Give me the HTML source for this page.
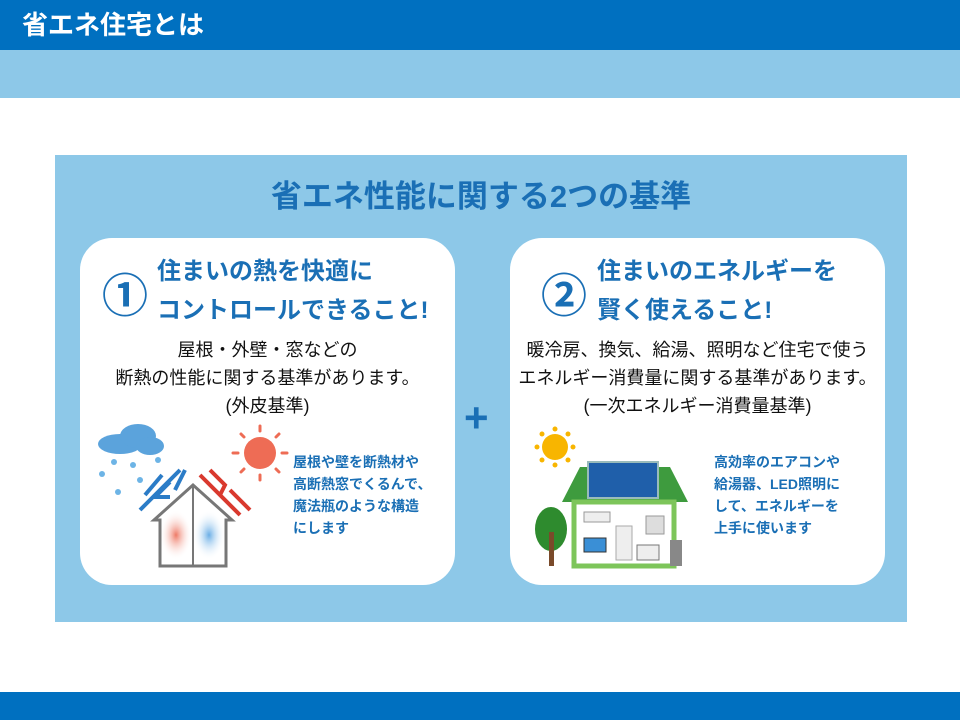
<!DOCTYPE html>
<html><head><meta charset="utf-8"><style>
*{margin:0;padding:0;box-sizing:border-box}
body{width:960px;height:720px;position:relative;background:#fff;font-family:"Liberation Sans","Noto Sans CJK JP",sans-serif;overflow:hidden}
.abs{position:absolute}
.card{position:absolute;top:238px;width:375px;height:347px;background:#fff;border-radius:32px}
.num{position:absolute;font-size:46px;color:#1A6FB5;font-weight:bold;line-height:1}
.tt{position:absolute;font-size:24px;font-weight:bold;color:#1A6FB5;line-height:39px;white-space:nowrap}
.body{position:absolute;left:0;width:375px;top:98px;text-align:center;font-size:18px;line-height:28px;color:#111;white-space:nowrap}
.sm{position:absolute;font-size:14px;font-weight:bold;color:#1A6FB5;line-height:22px;white-space:nowrap}
</style></head><body>
<div class="abs" style="left:0;top:0;width:960px;height:50px;background:#0070C0"></div>
<div class="abs" style="left:22px;top:8px;font-size:26px;font-weight:bold;color:#fff;line-height:34px">省エネ住宅とは</div>
<div class="abs" style="left:0;top:50px;width:960px;height:48px;background:#8DC8E8"></div>
<div class="abs" style="left:0;top:692px;width:960px;height:28px;background:#0070C0"></div>
<div class="abs" style="left:55px;top:155px;width:852px;height:467px;background:#8DC8E8"></div>
<div class="abs" style="left:55px;top:177px;width:852px;text-align:center;font-size:31px;font-weight:bold;color:#1A6FB5;line-height:40px">省エネ性能に関する2つの基準</div>
<div class="abs" style="left:464px;top:396px;font-size:42px;font-weight:bold;color:#1A6FB5;line-height:44px">+</div>

<div class="card" style="left:80px">
 <div class="num" style="left:22px;top:35px">①</div>
 <div class="tt" style="left:77px;top:14px">住まいの熱を快適に<br>コントロールできること!</div>
 <div class="body">屋根・外壁・窓などの<br>断熱の性能に関する基準があります。<br>(外皮基準)</div>
 <div class="sm" style="left:213px;top:213px">屋根や壁を断熱材や<br>高断熱窓でくるんで、<br>魔法瓶のような構造<br>にします</div>
 <svg class="abs" style="left:10px;top:182px" width="200" height="160" viewBox="0 0 200 160">
  <ellipse cx="30" cy="24" rx="22" ry="10" fill="#5BA3DC"/><ellipse cx="48" cy="16" rx="18" ry="12" fill="#5BA3DC"/><ellipse cx="60" cy="26" rx="14" ry="9" fill="#5BA3DC"/>
  <g fill="#6DB4E6"><circle cx="24" cy="42" r="3"/><circle cx="43" cy="45" r="3"/><circle cx="68" cy="40" r="3"/><circle cx="12" cy="54" r="3"/><circle cx="50" cy="60" r="3"/><circle cx="28" cy="72" r="3"/></g>
  <circle cx="170" cy="33" r="16" fill="#EE6C55"/>
  <g stroke="#EE6C55" stroke-width="3" stroke-linecap="round"><line x1="170" y1="6" x2="170" y2="11"/><line x1="170" y1="55" x2="170" y2="60"/><line x1="143" y1="33" x2="148" y2="33"/><line x1="192" y1="33" x2="197" y2="33"/><line x1="151" y1="14" x2="154" y2="17"/><line x1="186" y1="49" x2="189" y2="52"/><line x1="151" y1="52" x2="154" y2="49"/><line x1="186" y1="17" x2="189" y2="14"/></g>
  <g stroke="#2B7CC7" stroke-width="4" fill="none"><path d="M90 50 L50 90"/><path d="M80 62 L65 77 L80 77"/><path d="M72 55 L55 75"/><path d="M85 70 L95 50"/></g>
  <g stroke="#D9392E" stroke-width="4" fill="none"><path d="M110 55 L150 95"/><path d="M120 50 L135 65 L130 75"/><path d="M140 70 L160 90"/></g>
  <defs><radialGradient id="r" cx="0.5" cy="0.5" r="0.5"><stop offset="0" stop-color="#EE7A66"/><stop offset="1" stop-color="#fff" stop-opacity="0"/></radialGradient><radialGradient id="b" cx="0.5" cy="0.5" r="0.5"><stop offset="0" stop-color="#6AAEE6"/><stop offset="1" stop-color="#fff" stop-opacity="0"/></radialGradient></defs>
  <rect x="70" y="90" width="32" height="50" fill="url(#r)"/><rect x="103" y="90" width="32" height="50" fill="url(#b)"/>
  <path d="M64 100 L103 65 L142 100 L136 100 L136 146 L70 146 L70 100 Z" fill="none" stroke="#777" stroke-width="3"/>
  <line x1="103" y1="65" x2="103" y2="146" stroke="#777" stroke-width="2"/>
 </svg>
</div>

<div class="card" style="left:510px">
 <div class="num" style="left:31px;top:35px">②</div>
 <div class="tt" style="left:87px;top:14px">住まいのエネルギーを<br>賢く使えること!</div>
 <div class="body">暖冷房、換気、給湯、照明など住宅で使う<br>エネルギー消費量に関する基準があります。<br>(一次エネルギー消費量基準)</div>
 <div class="sm" style="left:204px;top:213px">高効率のエアコンや<br>給湯器、LED照明に<br>して、エネルギーを<br>上手に使います</div>
 <svg class="abs" style="left:10px;top:182px" width="200" height="160" viewBox="0 0 200 160">
  <circle cx="35" cy="27" r="13" fill="#F8B500"/>
  <g fill="#F8B500"><circle cx="35" cy="9" r="2.5"/><circle cx="35" cy="45" r="2.5"/><circle cx="17" cy="27" r="2.5"/><circle cx="53" cy="27" r="2.5"/><circle cx="22" cy="14" r="2.5"/><circle cx="48" cy="40" r="2.5"/><circle cx="22" cy="40" r="2.5"/><circle cx="48" cy="14" r="2.5"/></g>
  <path d="M60 47 L150 47 L168 82 L42 82 Z" fill="#3E9B3E"/>
  <rect x="68" y="42" width="70" height="36" fill="#1F5FAA" stroke="#9BB" stroke-width="2"/>
  <rect x="54" y="82" width="100" height="64" fill="#fff" stroke="#7DC55A" stroke-width="5"/>
  <rect x="64" y="92" width="26" height="10" fill="#eee" stroke="#999"/>
  <rect x="126" y="96" width="18" height="18" fill="#ddd" stroke="#999"/>
  <rect x="96" y="106" width="16" height="34" fill="#eee" stroke="#aaa"/>
  <rect x="64" y="118" width="22" height="14" fill="#3A8FD6" stroke="#333"/>
  <rect x="117" y="125" width="22" height="15" fill="#eee" stroke="#777"/>
  <rect x="150" y="120" width="12" height="26" fill="#888"/>
  <ellipse cx="31" cy="109" rx="16" ry="22" fill="#2E8B2E"/>
  <rect x="29" y="112" width="5" height="34" fill="#7A4A2A"/>
 </svg>
</div>
</body></html>
